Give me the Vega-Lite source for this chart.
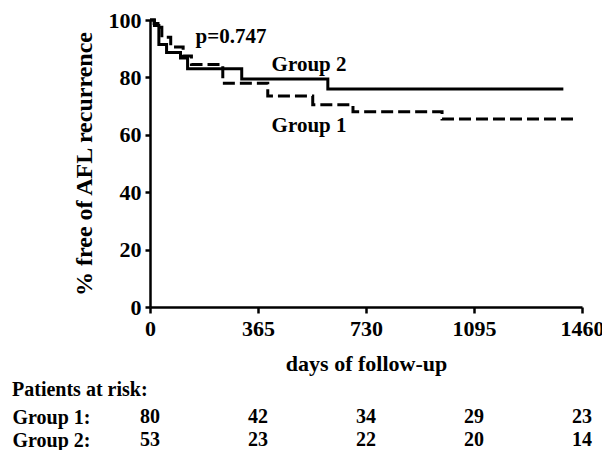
{
  "$schema": "https://vega.github.io/schema/vega-lite/v6.json",
  "background": "white",
  "padding": {"left": 12, "top": 9, "right": 0, "bottom": 0},
  "spacing": 6,
  "config": {
    "view": {"stroke": null},
    "font": "Liberation Serif",
    "axis": {
      "grid": false,
      "domainColor": "black",
      "domainWidth": 2.5,
      "tickColor": "black",
      "tickWidth": 2.5,
      "labelColor": "black",
      "labelFont": "Liberation Serif",
      "labelFontWeight": "bold",
      "titleColor": "black",
      "titleFont": "Liberation Serif",
      "titleFontWeight": "bold"
    }
  },
  "datasets": {
    "km": [
      {"group": "Group 1", "day": 0, "pct": 100},
      {"group": "Group 1", "day": 14, "pct": 98.8},
      {"group": "Group 1", "day": 27, "pct": 97.5},
      {"group": "Group 1", "day": 40, "pct": 94.0},
      {"group": "Group 1", "day": 70, "pct": 90.6},
      {"group": "Group 1", "day": 112, "pct": 87.5},
      {"group": "Group 1", "day": 140, "pct": 84.5},
      {"group": "Group 1", "day": 246, "pct": 78.0},
      {"group": "Group 1", "day": 398, "pct": 73.5},
      {"group": "Group 1", "day": 550, "pct": 70.5},
      {"group": "Group 1", "day": 686, "pct": 68.0},
      {"group": "Group 1", "day": 987, "pct": 65.5},
      {"group": "Group 1", "day": 1437, "pct": 65.5},
      {"group": "Group 2", "day": 0, "pct": 100},
      {"group": "Group 2", "day": 15, "pct": 98.1},
      {"group": "Group 2", "day": 30, "pct": 91.5},
      {"group": "Group 2", "day": 56, "pct": 88.7},
      {"group": "Group 2", "day": 103, "pct": 86.8},
      {"group": "Group 2", "day": 127, "pct": 83.0},
      {"group": "Group 2", "day": 310, "pct": 79.4},
      {"group": "Group 2", "day": 601, "pct": 76.0},
      {"group": "Group 2", "day": 1397, "pct": 76.0}
    ],
    "notes": [
      {"day": 154, "pct": 92.0, "label": "p=0.747"},
      {"day": 411, "pct": 82.2, "label": "Group 2"},
      {"day": 411, "pct": 61.0, "label": "Group 1"}
    ],
    "risk": [
      {"row": "Group 1:", "day": 0, "n": 80},
      {"row": "Group 1:", "day": 365, "n": 42},
      {"row": "Group 1:", "day": 730, "n": 34},
      {"row": "Group 1:", "day": 1095, "n": 29},
      {"row": "Group 1:", "day": 1460, "n": 23},
      {"row": "Group 2:", "day": 0, "n": 53},
      {"row": "Group 2:", "day": 365, "n": 23},
      {"row": "Group 2:", "day": 730, "n": 22},
      {"row": "Group 2:", "day": 1095, "n": 20},
      {"row": "Group 2:", "day": 1460, "n": 14}
    ]
  },
  "vconcat": [
    {
      "width": 432,
      "height": 287,
      "layer": [
        {
          "data": {"name": "km"},
          "mark": {"type": "line", "interpolate": "step-after", "strokeWidth": 3, "color": "black"},
          "encoding": {
            "x": {
              "field": "day", "type": "quantitative",
              "scale": {"domain": [0, 1460], "nice": false, "zero": false},
              "axis": {
                "values": [0, 365, 730, 1095, 1460],
                "format": "d",
                "title": "days of follow-up",
                "titleFontSize": 22,
                "titleX": 216, "titleY": 63,
                "titleAlign": "center", "titleBaseline": "alphabetic",
                "labelFontSize": 22, "labelPadding": 5, "tickSize": 6,
                "labelFlush": false, "labelOverlap": false
              }
            },
            "y": {
              "field": "pct", "type": "quantitative",
              "scale": {"domain": [0, 100], "nice": false},
              "axis": {
                "values": [0, 20, 40, 60, 80, 100],
                "format": "d",
                "title": "% free of AFL recurrence",
                "titleFontSize": 24,
                "titleX": -66, "titleY": 143.5,
                "titleAngle": 270, "titleAlign": "center", "titleBaseline": "middle",
                "labelFontSize": 22, "labelPadding": 4, "tickSize": 5,
                "labelOverlap": false
              }
            },
            "strokeDash": {
              "field": "group", "type": "nominal",
              "scale": {"domain": ["Group 1", "Group 2"], "range": [[12, 5], [1, 0]]},
              "legend": null
            }
          }
        },
        {
          "data": {"name": "notes"},
          "mark": {"type": "text", "align": "left", "baseline": "alphabetic", "fontSize": 21, "fontWeight": "bold", "font": "Liberation Serif", "color": "black"},
          "encoding": {
            "x": {"field": "day", "type": "quantitative"},
            "y": {"field": "pct", "type": "quantitative"},
            "text": {"field": "label"}
          }
        }
      ]
    },
    {
      "width": 432,
      "height": 23,
      "title": {
        "text": "Patients at risk:",
        "anchor": "start", "frame": "bounds",
        "fontSize": 20, "fontWeight": "bold", "font": "Liberation Serif", "color": "black",
        "baseline": "alphabetic", "offset": -9
      },
      "data": {"name": "risk"},
      "mark": {"type": "text", "align": "center", "baseline": "alphabetic", "fontSize": 20, "fontWeight": "bold", "font": "Liberation Serif", "color": "black"},
      "encoding": {
        "x": {"field": "day", "type": "quantitative", "scale": {"domain": [0, 1460], "nice": false, "zero": false}, "axis": null},
        "y": {
          "field": "row", "type": "ordinal",
          "scale": {"type": "point", "padding": 0, "domain": ["Group 1:", "Group 2:"]},
          "axis": {
            "title": null, "domain": false, "ticks": false, "tickSize": 0,
            "labelAlign": "left", "labelBaseline": "alphabetic", "labelPadding": 138,
            "labelFontSize": 20
          }
        },
        "text": {"field": "n", "type": "quantitative", "format": "d"}
      }
    }
  ]
}
